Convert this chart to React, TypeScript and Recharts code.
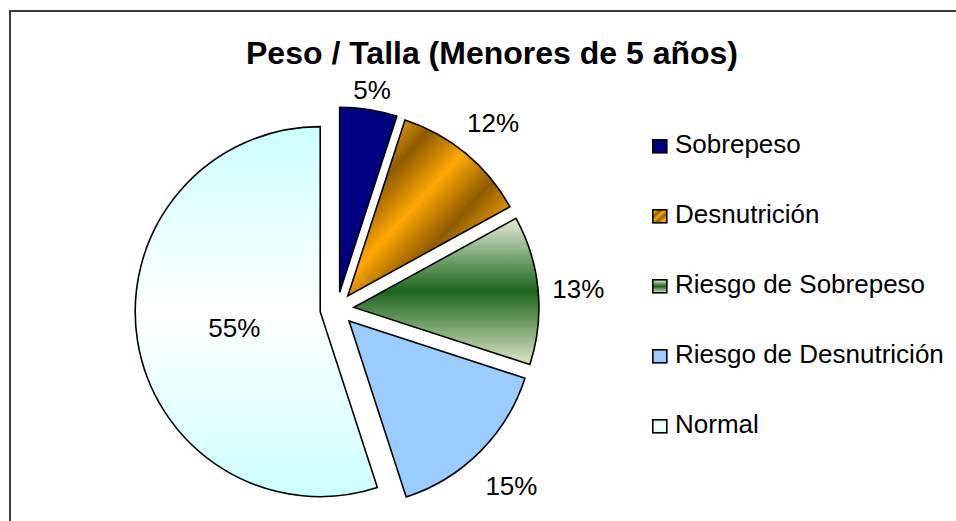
import React from "react";
import { PieChart, Pie, Cell, Sector, Legend } from "recharts";

const categories = [
  "Sobrepeso",
  "Desnutrición",
  "Riesgo de Sobrepeso",
  "Riesgo de Desnutrición",
  "Normal",
];
const percentages = [5, 12, 13, 15, 55];

const sliceFills = [
  "#000080",
  "url(#gradDesnutricion)",
  "url(#gradRiesgoSobrepeso)",
  "#99CCFF",
  "url(#gradNormal)",
];

const pieData = categories.map((name, i) => ({ name, value: percentages[i] }));

const FONT = '"Liberation Sans", Arial, Helvetica, sans-serif';
const RAD = Math.PI / 180;
const EXPLODE = 17;
const LABEL_FS = 26;

// each slice pulled out along its mid angle (Excel "exploded" pie)
const ExplodedSlice = (props: any) => {
  const { cx, cy, innerRadius, outerRadius, startAngle, endAngle, fill } = props;
  const mid = props.midAngle ?? (startAngle + endAngle) / 2;
  const dx = EXPLODE * Math.cos(-mid * RAD);
  const dy = EXPLODE * Math.sin(-mid * RAD);
  return (
    <Sector
      cx={cx + dx}
      cy={cy + dy}
      innerRadius={innerRadius}
      outerRadius={outerRadius}
      startAngle={startAngle}
      endAngle={endAngle}
      fill={fill}
      stroke="#000"
      strokeWidth={1.6}
    />
  );
};

const renderLabel = (props: any) => {
  const { cx, cy, midAngle, outerRadius, percent } = props;
  const ux = Math.cos(-midAngle * RAD);
  const uy = Math.sin(-midAngle * RAD);
  const text = `${Math.round(percent * 100)}%`;
  let r: number;
  if (percent > 0.5) {
    r = EXPLODE + outerRadius * 0.47;
  } else {
    // keep the text box clear of the slice edge
    const w = (0.556 * (text.length - 1) + 0.889) * LABEL_FS;
    const h = 0.25 * LABEL_FS;
    r =
      outerRadius + EXPLODE + 12 +
      (Math.abs(ux) * w) / 2 + (Math.abs(uy) * h) / 2 +
      24 * Math.abs(ux * uy);
  }
  return (
    <text
      x={cx + r * ux}
      y={cy + r * uy + 0.36 * LABEL_FS + 2}
      textAnchor="middle"
      fontFamily={FONT}
      fontSize={LABEL_FS}
      fill="#000"
    >
      {text}
    </text>
  );
};

const LegendContent = ({ payload }: any) => {
  const items = [...(payload || [])].sort(
    (a: any, b: any) => categories.indexOf(a.value) - categories.indexOf(b.value)
  );
  return (
    <div style={{ fontFamily: FONT, fontSize: 26, color: "#000" }}>
      {items.map((entry: any, i: number) => (
        <div key={i} style={{ height: 70, display: "flex", alignItems: "center" }}>
          <svg width={16} height={15} style={{ marginRight: 7, marginTop: 5 }}>
            <rect
              x={0.8}
              y={0.8}
              width={14}
              height={13}
              fill={sliceFills[categories.indexOf(entry.value)] ?? entry.color}
              stroke="#000"
              strokeWidth={1.6}
            />
          </svg>
          <span style={{ lineHeight: "26px", whiteSpace: "nowrap" }}>{entry.value}</span>
        </div>
      ))}
    </div>
  );
};

export default function App() {
  return (
    <div
      style={{
        position: "fixed",
        left: 0,
        top: 0,
        width: 956,
        height: 521,
        overflow: "hidden",
        background: "#fff",
      }}
    >
      {/* gradient fills shared by slices and legend swatches */}
      <svg width={0} height={0} style={{ position: "absolute" }}>
        <defs>
          <linearGradient id="gradDesnutricion" x1="0" y1="0" x2="1" y2="1">
            <stop offset="0" stopColor="#C88000" />
            <stop offset="0.12" stopColor="#FFAD00" />
            <stop offset="0.28" stopColor="#8F5A00" />
            <stop offset="0.45" stopColor="#FFA800" />
            <stop offset="0.62" stopColor="#8F5A00" />
            <stop offset="0.8" stopColor="#FFAA00" />
            <stop offset="1" stopColor="#C07A00" />
          </linearGradient>
          <linearGradient id="gradRiesgoSobrepeso" x1="0" y1="0" x2="0" y2="1">
            <stop offset="0" stopColor="#E6EDD8" />
            <stop offset="0.5" stopColor="#1B661B" />
            <stop offset="1" stopColor="#DDE6C8" />
          </linearGradient>
          <linearGradient id="gradNormal" x1="0" y1="0" x2="0" y2="1">
            <stop offset="0" stopColor="#CCFFFF" />
            <stop offset="0.5" stopColor="#FFFFFF" />
            <stop offset="1" stopColor="#CCFFFF" />
          </linearGradient>
        </defs>
      </svg>

      {/* chart area frame, cut off at the right and bottom */}
      <div
        style={{
          position: "absolute",
          left: 9,
          top: 10,
          width: 2000,
          height: 2000,
          borderLeft: "2px solid #3a3a3a",
          borderTop: "2px solid #3a3a3a",
        }}
      />

      <div
        style={{
          position: "absolute",
          left: 192,
          top: 37,
          width: 600,
          textAlign: "center",
          fontFamily: FONT,
          fontWeight: 700,
          fontSize: 32,
          lineHeight: "32px",
          color: "#000",
          whiteSpace: "nowrap",
        }}
      >
        Peso / Talla (Menores de 5 años)
      </div>

      <div style={{ position: "absolute", left: 0, top: 0 }}>
        <PieChart width={956} height={521} margin={{ top: 0, right: 0, bottom: 0, left: 0 }}>
          <Pie
            data={pieData}
            dataKey="value"
            nameKey="name"
            cx={337}
            cy={309}
            outerRadius={185}
            startAngle={90}
            endAngle={-270}
            stroke="#000"
            strokeWidth={1.6}
            labelLine={false}
            label={renderLabel}
            shape={ExplodedSlice}
            isAnimationActive={false}
          >
            {pieData.map((d, i) => (
              <Cell key={d.name} fill={sliceFills[i]} />
            ))}
          </Pie>
          <Legend
            layout="vertical"
            align="right"
            verticalAlign="top"
            content={LegendContent}
            wrapperStyle={{ left: 652, top: 109, width: 300 }}
          />
        </PieChart>
      </div>
    </div>
  );
}
